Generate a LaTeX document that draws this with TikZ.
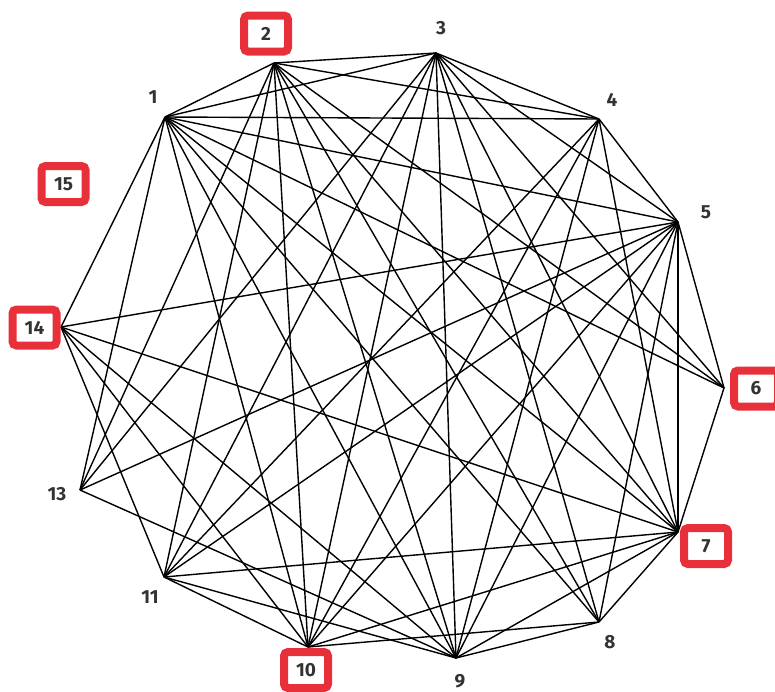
\documentclass[tikz,border=0pt]{standalone}
\usepackage{fontspec}
\setmainfont{Fira Sans}
\definecolor{boxred}{HTML}{E8303A}
\definecolor{labgray}{HTML}{333333}
\begin{document}
\begin{tikzpicture}[x=1pt,y=-1pt,
  edge/.style={line width=1.4pt, black},
  lab/.style={font=\bfseries\fontsize{19}{19}\selectfont, text=labgray, inner sep=0pt},
  boxlab/.style={lab, draw=boxred, line width=8pt, rounded corners=4pt, fill=white, minimum width=44pt, minimum height=36pt}]
\useasboundingbox (0,0) rectangle (775,691);
% vertices
\coordinate (v1) at (165,117);
\coordinate (v2) at (274,63);
\coordinate (v3) at (436,53);
\coordinate (v4) at (599,119);
\coordinate (v5) at (678,222);
\coordinate (v6) at (724,388);
\coordinate (v7) at (678,532);
\coordinate (v8) at (599,622);
\coordinate (v9) at (456,658);
\coordinate (v10) at (308,647);
\coordinate (v11) at (164,577);
\coordinate (v13) at (80,490);
\coordinate (v14) at (61,327);
% edges
\foreach \a/\b in {1/2,1/3,1/4,1/5,1/6,1/7,1/8,1/9,1/10,1/13,1/14,
  2/3,2/4,2/6,2/7,2/8,2/9,2/10,2/11,2/13,
  3/4,3/5,3/6,3/7,3/8,3/9,3/10,3/11,3/13,
  4/5,4/7,4/9,4/10,4/11,
  5/6,5/7,5/8,5/9,5/10,5/11,5/13,5/14,
  6/7,
  7/8,7/9,7/10,7/11,7/14,
  8/9,8/10,
  9/11,9/13,9/14,
  10/11,10/14,
  11/14}
  \draw[edge] (v\a) -- (v\b);
% labels
\node[lab] (l1) at (153,97) {1};
\node[boxlab] (l2) at (266,33.5) {2};
\node[lab] (l3) at (441,28) {3};
\node[lab] (l4) at (612,100) {4};
\node[lab] (l5) at (706,212) {5};
\node[boxlab] (l6) at (756,388.5) {6};
\node[boxlab] (l7) at (706,546) {7};
\node[lab] (l8) at (610,642) {8};
\node[lab] (l9) at (460,681) {9};
\node[boxlab] (l10) at (306,670) {10};
\node[lab] (l11) at (150,597) {11};
\node[lab] (l13) at (57,494) {13};
\node[boxlab] (l14) at (34.5,327.5) {14};
\node[boxlab] (l15) at (63.5,184) {15};
\end{tikzpicture}
\end{document}
